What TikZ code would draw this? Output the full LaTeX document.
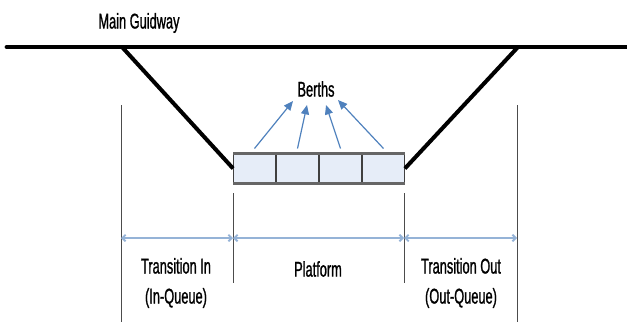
\documentclass[tikz,border=0pt]{standalone}
\usepackage{fontspec}
\setmainfont[FakeStretch=0.6,FakeBold=1]{Liberation Sans}
\usetikzlibrary{arrows.meta}
\definecolor{arrblue}{HTML}{4F81BD}
\definecolor{dimblue}{HTML}{95B3D7}
\definecolor{cellfill}{HTML}{E6EDF8}
\tikzset{
  lbl/.style={font=\fontsize{16}{22.5}\selectfont, align=center, inner sep=0pt},
  track/.style={line width=3.6pt, line cap=round},
  ramp/.style={line width=3pt},
  cell/.style={draw=black!75, line width=0.8pt, fill=cellfill, minimum width=32.1pt, minimum height=22.5pt, inner sep=0pt, outer sep=0pt},
  berth/.style={draw=arrblue, line width=0.9pt, -{Triangle[length=7pt,width=6pt]}},
  guide/.style={draw=black!70, line width=0.6pt},
  dim/.style={draw=dimblue, line width=1.4pt, {Straight Barb[length=2.5pt,width=5pt]}-{Straight Barb[length=2.5pt,width=5pt]}}
}
\begin{document}
\begin{tikzpicture}[x=0.75pt,y=-0.75pt]
\useasboundingbox (0,0) rectangle (627,325);
% texts
\node[lbl] (mg) at (139,23) {Main Guidway};
\node[lbl] (berths) at (316,89) {Berths};
\node[lbl] (tin) at (176,283) {Transition In\\(In-Queue)};
\node[lbl] (plat) at (318,269) {Platform};
\node[lbl] (tout) at (461,283) {Transition Out\\(Out-Queue)};
% guideway
\coordinate (gl) at (7,47);
\coordinate (gr) at (627,47);
\coordinate (dl) at (122,47);
\coordinate (dr) at (518,47);
\draw[track] (gl) -- (gr);
% platform cells
\node[cell] (c1) at (254.5,168.5) {};
\node[cell] (c2) at (297.5,168.5) {};
\node[cell] (c3) at (340.5,168.5) {};
\node[cell] (c4) at (383.5,168.5) {};
\draw[black!60, line width=1.6pt] (c1.north west) -- (c4.north east);
\draw[black!60, line width=1.6pt] (c1.south west) -- (c4.south east);
% ramps
\draw[ramp] (dl) -- (c1.west);
\draw[ramp] (dr) -- (c4.east);
% berth arrows
\coordinate (a1) at (293,101);
\coordinate (a2) at (307,105);
\coordinate (a3) at (326,105);
\coordinate (a4) at (338,100);
\draw[berth] ([shift={(0,-20)}]c1.center) -- (a1);
\draw[berth] ([shift={(0,-20)}]c2.center) -- (a2);
\draw[berth] ([shift={(0,-20)}]c3.center) -- (a3);
\draw[berth] ([shift={(0,-20)}]c4.center) -- (a4);
% guide lines
\coordinate (v1t) at (121,105); \coordinate (v1b) at (121,322);
\coordinate (v2t) at (233,193); \coordinate (v2b) at (233,283);
\coordinate (v3t) at (404,193); \coordinate (v3b) at (404,283);
\coordinate (v4t) at (517,105); \coordinate (v4b) at (517,322);
\draw[guide] (v1t) -- (v1b);
\draw[guide] (v2t) -- (v2b);
\draw[guide] (v3t) -- (v3b);
\draw[guide] (v4t) -- (v4b);
% dimension lines
\coordinate (d1) at (121,238); \coordinate (d2) at (233,238);
\coordinate (d3) at (404,238); \coordinate (d4) at (517,238);
\draw[dim] (d1) -- (d2);
\draw[dim] (d2) -- (d3);
\draw[dim] (d3) -- (d4);
\end{tikzpicture}
\end{document}
